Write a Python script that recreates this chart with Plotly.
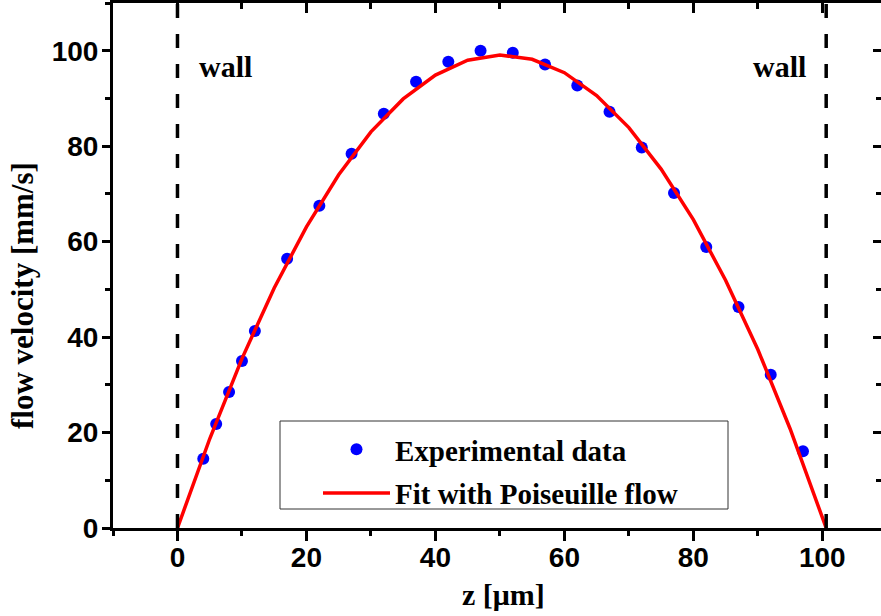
import plotly.graph_objects as go

# Experimental data
z_exp = [4, 6, 8, 10, 12, 17, 22, 27, 32, 37, 42, 47, 52, 57, 62, 67, 72, 77, 82, 87, 92, 97]
v_exp = [14.5, 21.8, 28.5, 35.0, 41.3, 56.4, 67.5, 78.4, 86.8, 93.5, 97.7, 100.0,
         99.6, 97.1, 92.7, 87.2, 79.7, 70.2, 58.9, 46.3, 32.1, 16.1]

# Fit with Poiseuille flow
z_fit = [0, 5, 10, 15, 20, 25, 30, 35, 40, 45, 50, 55, 60, 65, 70, 75, 80, 85, 90, 95, 100.6]
v_fit = [0, 18.7, 35.5, 50.3, 63.1, 74.0, 83.0, 89.9, 94.9, 98.0, 99.1, 98.2, 95.4,
         90.6, 83.9, 75.2, 64.6, 51.9, 37.4, 20.8, 0]

wall_positions = [0, 100.6]
wall_labels = ["wall", "wall"]
wall_label_x = [7.4, 93.3]
wall_label_y = [96.6, 96.6]

x_range = [-10, 109.1]
y_range = [0, 110]

SERIF = "Liberation Serif"
SANS = "Liberation Sans"

# plot-area geometry in pixels (used for paper-coordinate placement)
L, R, T, B = 113, 881, 3, 528
PW, PH = R - L, B - T


def px(xp):
    return (xp - L) / PW


def py(yp):
    return (B - yp) / PH


fig = go.Figure()
fig.add_trace(go.Scatter(
    x=z_exp, y=v_exp, mode="markers", name="Experimental data", legendgroup="a",
    marker=dict(color="#0000FF", size=12, line=dict(width=0)),
))
fig.add_trace(go.Scatter(
    x=z_fit, y=v_fit, mode="lines", name="Fit with Poiseuille flow", legendgroup="b",
    line=dict(color="#FF0000", width=3.5),
))
# invisible trace to anchor the mirror axes
fig.add_trace(go.Scatter(x=[x_range[0]], y=[y_range[0]], xaxis="x2", yaxis="y2",
                         mode="markers", marker=dict(opacity=0), showlegend=False,
                         hoverinfo="skip"))

for xw in wall_positions:
    fig.add_shape(type="line", xref="x", yref="y", x0=xw, x1=xw, y0=y_range[0], y1=y_range[1],
                  line=dict(color="black", width=3.5, dash="14px,16px"))

# legend frame
fig.add_shape(type="rect", xref="paper", yref="paper",
              x0=px(280), x1=px(728), y0=py(509), y1=py(421),
              line=dict(color="#333333", width=1), fillcolor="white", layer="below")

for lx, ly, lt in zip(wall_label_x, wall_label_y, wall_labels):
    fig.add_annotation(x=lx, y=ly, xref="x", yref="y", text=lt, showarrow=False,
                       xanchor="center", yanchor="middle",
                       font=dict(family=SERIF, size=30, color="black", weight="bold"))

fig.add_annotation(x=px(22), y=py(296), xref="paper", yref="paper",
                   text="flow velocity [mm/s]", textangle=-90, showarrow=False,
                   xanchor="center", yanchor="middle",
                   font=dict(family=SERIF, size=31, color="black", weight="bold"))
fig.add_annotation(x=px(503), y=py(594), xref="paper", yref="paper",
                   text="z [\u03bcm]", showarrow=False,
                   xanchor="center", yanchor="middle",
                   font=dict(family=SERIF, size=30, color="black", weight="bold"))

axis_common = dict(showgrid=False, zeroline=False, linecolor="black", tickcolor="black",
                   automargin=False)

fig.update_layout(
    width=881, height=616,
    margin=dict(l=L, r=881 - R, t=T, b=616 - B, autoexpand=False),
    paper_bgcolor="white", plot_bgcolor="white",
    showlegend=True,
    legend=dict(
        x=px(318), y=py(424), xanchor="left", yanchor="top",
        bgcolor="rgba(0,0,0,0)", borderwidth=0,
        font=dict(family=SERIF, size=29, color="black", weight="bold"),
        itemwidth=67, tracegroupgap=3,
    ),
    xaxis=dict(
        range=x_range, dtick=20, tick0=0, ticks="outside", ticklen=10, tickwidth=3,
        showline=True, linewidth=3, mirror=False, ticklabelstandoff=-8,
        tickfont=dict(family=SANS, size=28, color="black", weight="bold"),
        minor=dict(dtick=10, tick0=0, ticks="outside", ticklen=5, tickwidth=3, tickcolor="black"),
        **axis_common,
    ),
    yaxis=dict(
        range=y_range, dtick=20, tick0=0, ticks="outside", ticklen=8, tickwidth=3,
        showline=True, linewidth=3, mirror=False, ticklabelstandoff=-2,
        tickfont=dict(family=SANS, size=28, color="black", weight="bold"),
        minor=dict(dtick=10, tick0=0, ticks="outside", ticklen=5, tickwidth=3, tickcolor="black"),
        **axis_common,
    ),
    xaxis2=dict(
        range=x_range, overlaying="x", side="top", anchor="y2",
        dtick=20, tick0=0, ticks="inside", ticklen=10, tickwidth=3,
        showline=True, linewidth=3, showticklabels=False,
        minor=dict(dtick=10, tick0=0, ticks="inside", ticklen=6, tickwidth=3, tickcolor="black"),
        **axis_common,
    ),
    yaxis2=dict(
        range=y_range, overlaying="y", side="right", anchor="x2",
        dtick=20, tick0=0, ticks="inside", ticklen=8, tickwidth=3,
        showline=False, showticklabels=False,
        minor=dict(dtick=10, tick0=0, ticks="inside", ticklen=5, tickwidth=3, tickcolor="black"),
        **axis_common,
    ),
)

fig.write_html("out.html", config={"displayModeBar": False},
               post_script="document.body.style.margin='0';")
